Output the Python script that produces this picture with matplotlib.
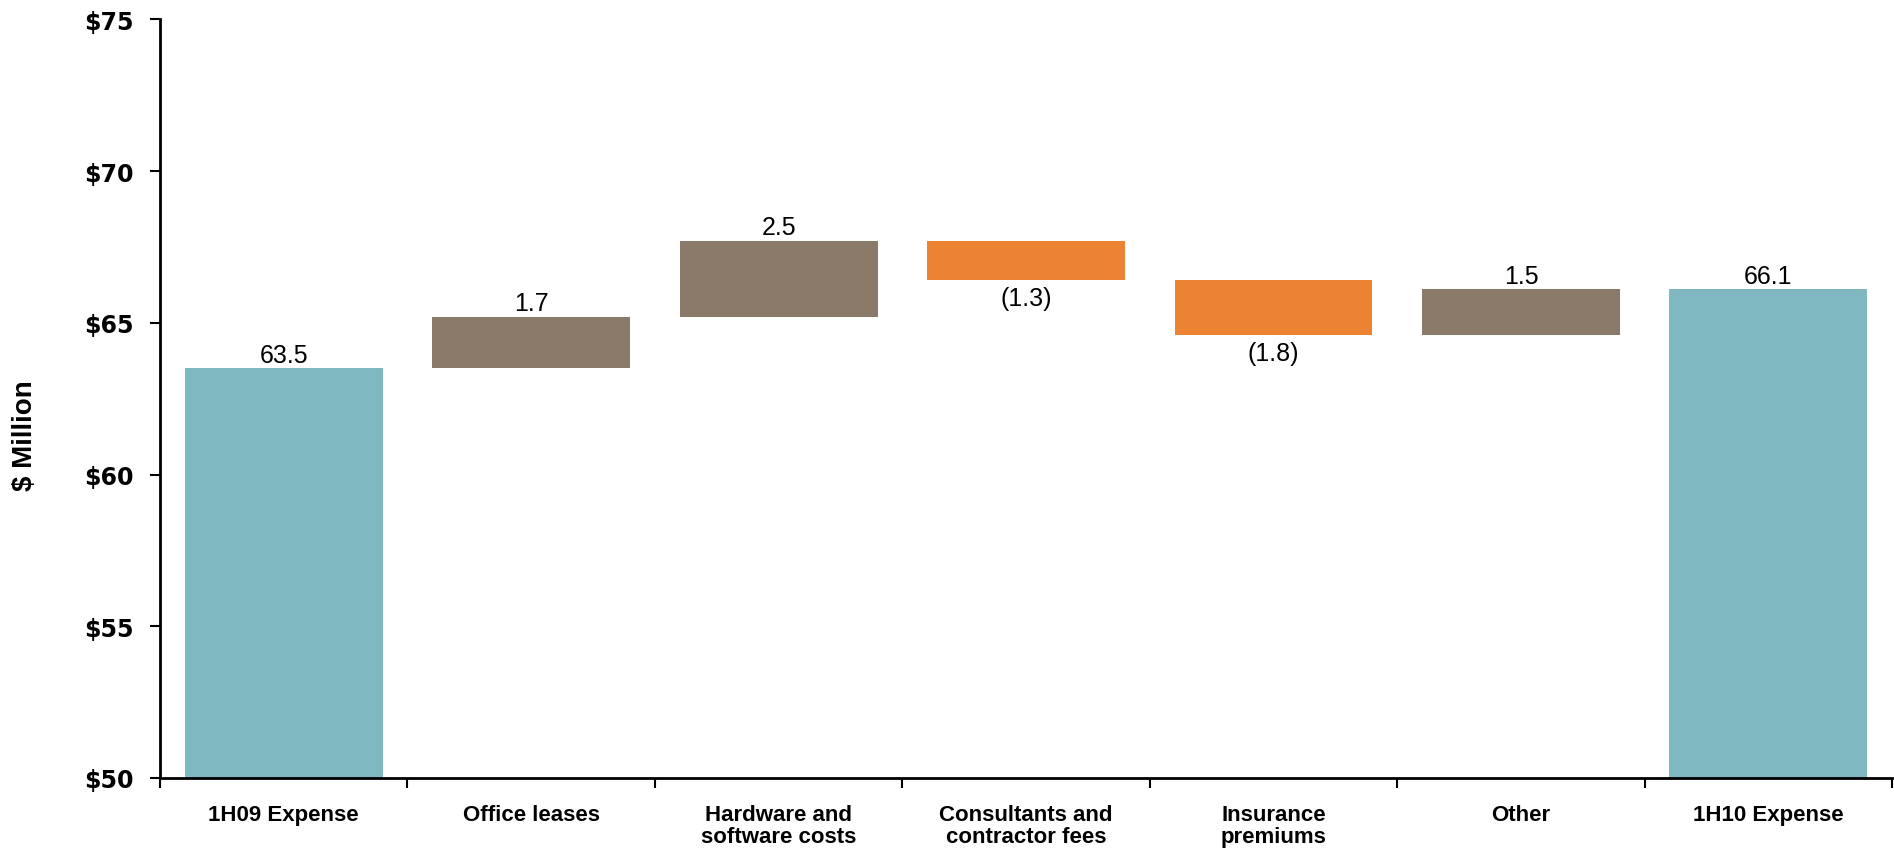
import matplotlib
matplotlib.use("Agg")
import matplotlib.pyplot as plt
import numpy as np
from matplotlib import font_manager

categories = ["1H09 Expense", "Office leases", "Hardware and\nsoftware costs",
              "Consultants and\ncontractor fees", "Insurance\npremiums", "Other", "1H10 Expense"]
start_value = 63.5
changes = [1.7, 2.5, -1.3, -1.8, 1.5]
end_value = 66.1
yticks = [50, 55, 60, 65, 70, 75]

c_total = "#7FB8C1"
c_up = "#8B7969"
c_down = "#EB8332"

names = {f.name for f in font_manager.fontManager.ttflist}
narrow = "Liberation Sans Narrow" if "Liberation Sans Narrow" in names else "Liberation Sans"

fig = plt.figure(figsize=(18.94, 8.54), dpi=100)
ax = fig.add_axes([0.0845, 0.088, 0.9145, 0.888])

n = len(categories)
x = np.arange(n)
bottoms, heights, colors, labels = [], [], [], []
bottoms.append(0); heights.append(start_value); colors.append(c_total); labels.append(f"{start_value:.1f}")
run = start_value
for ch in changes:
    if ch >= 0:
        bottoms.append(run); heights.append(ch); colors.append(c_up); labels.append(f"{ch:.1f}")
    else:
        bottoms.append(run + ch); heights.append(-ch); colors.append(c_down); labels.append(f"({-ch:.1f})")
    run += ch
bottoms.append(0); heights.append(end_value); colors.append(c_total); labels.append(f"{end_value:.1f}")

ax.bar(x, heights, bottom=bottoms, width=0.8, color=colors, zorder=2)

for i in range(n):
    top = bottoms[i] + heights[i]
    if i > 0 and i < n - 1 and changes[i - 1] < 0:
        ax.text(x[i], bottoms[i] - 0.2, labels[i], ha="center", va="top",
                fontsize=18, family=narrow)
    else:
        ax.text(x[i], top + 0.05, labels[i], ha="center", va="bottom",
                fontsize=18, family=narrow)

ax.set_xlim(-0.5, n - 0.5)
ax.set_ylim(50, 75)
ax.set_yticks(yticks)
ax.set_yticklabels([f"${v}" for v in yticks], fontsize=17, fontweight="bold", family="DejaVu Sans")
ax.set_xticks(x)
ax.set_xticklabels(categories, fontsize=16, fontweight="bold", family=narrow, linespacing=1.05)
ax.tick_params(axis="x", length=0, pad=19)
ax.set_xticks(np.arange(n + 1) - 0.5, minor=True)
ax.tick_params(axis="x", which="minor", length=7, width=1.5, direction="out")
ax.tick_params(axis="y", length=7, width=1.5, direction="out", pad=12)

for s in ["top", "right"]:
    ax.spines[s].set_visible(False)
for s in ["left", "bottom"]:
    ax.spines[s].set_linewidth(2)
    ax.spines[s].set_color("black")

fig.text(0.013, 0.49, "$ Million", rotation=90, ha="center", va="center",
         fontsize=20, fontweight="bold", family=narrow)

fig.savefig("out.png", dpi=100)
